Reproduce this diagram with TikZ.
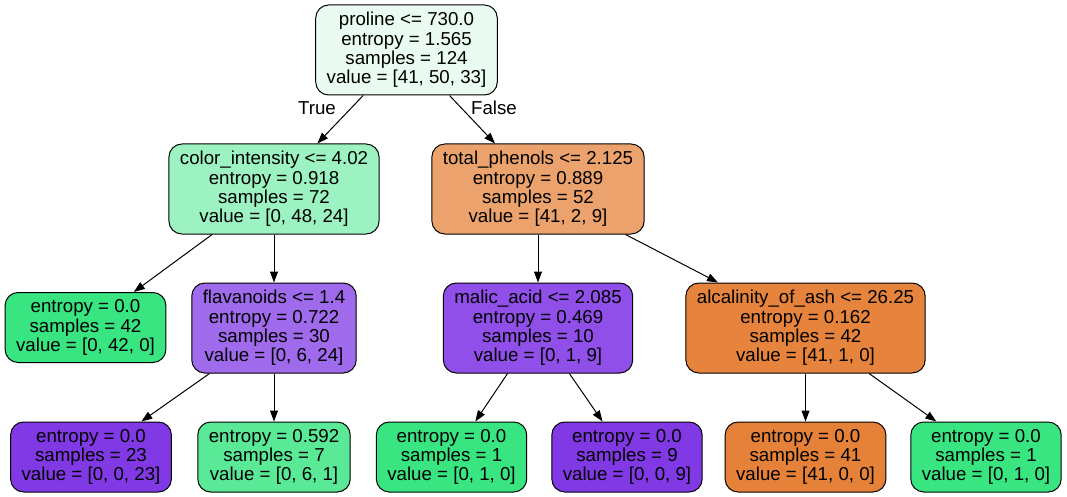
\documentclass[tikz,border=0pt]{standalone}
\usepackage{fontspec}
\setmainfont{Liberation Sans}
\usepackage{tikz}
\usetikzlibrary{arrows.meta,positioning}
\usepackage{xcolor}

\definecolor{rootfill}{HTML}{EAFCF1}
\definecolor{greenmid}{HTML}{9CF2C0}
\definecolor{greenleaf}{HTML}{39E581}
\definecolor{greenlight}{HTML}{5AE996}
\definecolor{orangemid}{HTML}{ECA26C}
\definecolor{orangedeep}{HTML}{E6843E}
\definecolor{orangeleaf}{HTML}{E58139}
\definecolor{purplemid}{HTML}{A06AEC}
\definecolor{purpledeep}{HTML}{8F4FE8}
\definecolor{purpleleaf}{HTML}{8139E5}

\begin{document}
\begin{tikzpicture}[
  x=1pt, y=-1pt,
  split/.style={rectangle, draw=black, line width=1pt, rounded corners=13pt,
                minimum height=90pt, inner xsep=11pt, inner ysep=3pt,
                font=\fontsize{18.7}{19.3}\selectfont, align=center},
  leaf/.style={split, minimum height=70pt},
  arr/.style={-{Triangle[length=11pt, width=8pt]}, line width=1pt},
  lbl/.style={font=\fontsize{18.7}{19.3}\selectfont, inner sep=0pt},
]
  \useasboundingbox (0,0) rectangle (1067,497);

  % level 0 and 1
  \node[split, fill=rootfill] (root) at (406.5,50)
    {proline <= 730.0\\entropy = 1.565\\samples = 124\\value = [41, 50, 33]};
  \node[split, fill=greenmid] (color) at (274,189)
    {color\_intensity <= 4.02\\entropy = 0.918\\samples = 72\\value = [0, 48, 24]};
  \node[split, fill=orangemid] (phenols) at (538,189)
    {total\_phenols <= 2.125\\entropy = 0.889\\samples = 52\\value = [41, 2, 9]};

  % level 2
  \node[leaf, fill=greenleaf] (leafA) at (85.5,327.5)
    {entropy = 0.0\\samples = 42\\value = [0, 42, 0]};
  \node[split, fill=purplemid] (flav) at (274,328)
    {flavanoids <= 1.4\\entropy = 0.722\\samples = 30\\value = [0, 6, 24]};
  \node[split, fill=purpledeep] (malic) at (538,328)
    {malic\_acid <= 2.085\\entropy = 0.469\\samples = 10\\value = [0, 1, 9]};
  \node[split, fill=orangedeep] (ash) at (805.5,328)
    {alcalinity\_of\_ash <= 26.25\\entropy = 0.162\\samples = 42\\value = [41, 1, 0]};

  % level 3
  \node[leaf, fill=purpleleaf] (leafB) at (91,457)
    {entropy = 0.0\\samples = 23\\value = [0, 0, 23]};
  \node[leaf, fill=greenlight] (leafC) at (274,457)
    {entropy = 0.592\\samples = 7\\value = [0, 6, 1]};
  \node[leaf, fill=greenleaf] (leafD) at (451.5,457)
    {entropy = 0.0\\samples = 1\\value = [0, 1, 0]};
  \node[leaf, fill=purpleleaf] (leafE) at (627,457)
    {entropy = 0.0\\samples = 9\\value = [0, 0, 9]};
  \node[leaf, fill=orangeleaf] (leafF) at (805.5,457)
    {entropy = 0.0\\samples = 41\\value = [41, 0, 0]};
  \node[leaf, fill=greenleaf] (leafG) at (986,457)
    {entropy = 0.0\\samples = 1\\value = [0, 1, 0]};

  \node[lbl] (truelbl) at (317,108) {True};
  \node[lbl] (falselbl) at (494,108) {False};

  \draw[arr] (root) -- (color);
  \draw[arr] (root) -- (phenols);
  \draw[arr] (color) -- (leafA);
  \draw[arr] (color) -- (flav);
  \draw[arr] (phenols) -- (malic);
  \draw[arr] (phenols) -- (ash);
  \draw[arr] (flav) -- (leafB);
  \draw[arr] (flav) -- (leafC);
  \draw[arr] (malic) -- (leafD);
  \draw[arr] (malic) -- (leafE);
  \draw[arr] (ash) -- (leafF);
  \draw[arr] (ash) -- (leafG);
\end{tikzpicture}
\end{document}
